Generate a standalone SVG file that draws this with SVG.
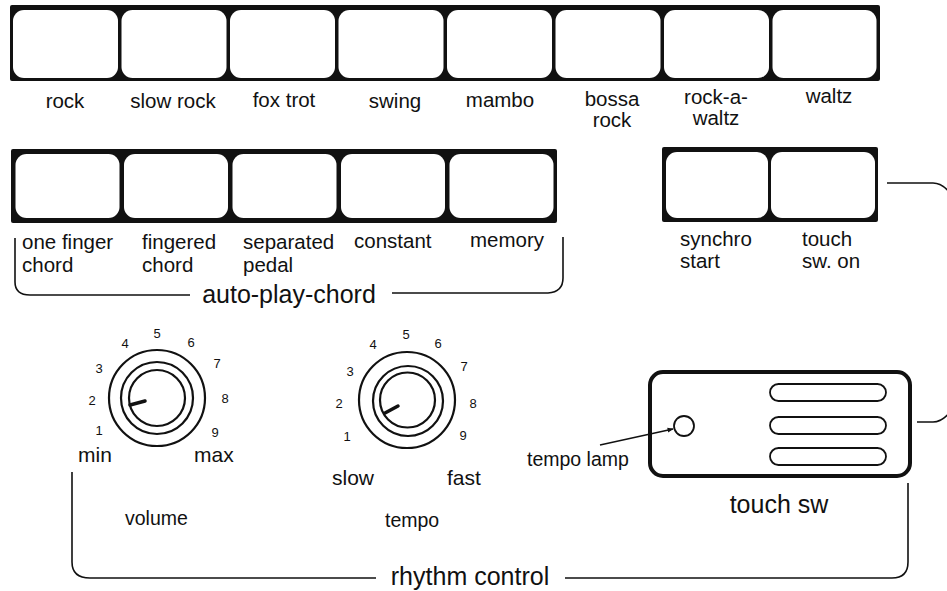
<svg xmlns="http://www.w3.org/2000/svg" width="947" height="591" viewBox="0 0 947 591">
<defs>
<style>
text{font-family:"Liberation Sans",Arial,Helvetica,sans-serif;fill:#111}
.lbl{font-size:20.5px}
.big{font-size:25px}
.num{font-size:13px;text-anchor:middle}
.mid{text-anchor:middle}
.bar{fill:#111}
.btn{fill:#fff}
.ring{fill:none;stroke:#111;stroke-width:2.2}
.ptr{stroke:#111;stroke-width:3.5;stroke-linecap:round}
.ln{fill:none;stroke:#111;stroke-width:1.6}
.slot{fill:#fff;stroke:#111;stroke-width:1.8}
</style>
<marker id="ah" viewBox="0 0 10 10" refX="9" refY="5" markerWidth="7" markerHeight="6" orient="auto" markerUnits="userSpaceOnUse">
<path d="M0,1 L10,5 L0,9 z" fill="#111"/>
</marker>
</defs>
<rect width="947" height="591" fill="#fff"/>

<g id="rhythm-buttons">
<rect class="bar" x="10" y="5" width="870" height="76" rx="2"/>
<rect class="btn" x="13" y="10" width="105" height="68" rx="11"/>
<rect class="btn" x="121.5" y="10" width="105" height="68" rx="11"/>
<rect class="btn" x="230" y="10" width="105" height="68" rx="11"/>
<rect class="btn" x="338.5" y="10" width="105" height="68" rx="11"/>
<rect class="btn" x="447" y="10" width="105" height="68" rx="11"/>
<rect class="btn" x="555.5" y="10" width="105" height="68" rx="11"/>
<rect class="btn" x="664" y="10" width="105" height="68" rx="11"/>
<rect class="btn" x="772.5" y="10" width="104" height="68" rx="11"/>
<text class="lbl mid" x="65" y="108">rock</text>
<text class="lbl mid" x="173" y="108">slow rock</text>
<text class="lbl mid" x="284" y="107">fox trot</text>
<text class="lbl mid" x="395" y="108">swing</text>
<text class="lbl mid" x="500" y="107">mambo</text>
<text class="lbl mid" x="612" y="106">bossa</text>
<text class="lbl mid" x="612" y="127">rock</text>
<text class="lbl mid" x="716" y="104">rock-a-</text>
<text class="lbl mid" x="716" y="125">waltz</text>
<text class="lbl mid" x="829" y="103">waltz</text>
</g>

<g id="chord-buttons">
<rect class="bar" x="11" y="149" width="546" height="74" rx="2"/>
<rect class="btn" x="15.5" y="154" width="104" height="64" rx="11"/>
<rect class="btn" x="124" y="154" width="104" height="64" rx="11"/>
<rect class="btn" x="232.5" y="154" width="104" height="64" rx="11"/>
<rect class="btn" x="341" y="154" width="104" height="64" rx="11"/>
<rect class="btn" x="449.5" y="154" width="104" height="64" rx="11"/>
<text class="lbl" x="22" y="249">one finger</text>
<text class="lbl" x="22" y="272">chord</text>
<text class="lbl" x="142" y="249">fingered</text>
<text class="lbl" x="142" y="272">chord</text>
<text class="lbl" x="243" y="249">separated</text>
<text class="lbl" x="243" y="272">pedal</text>
<text class="lbl" x="354" y="248">constant</text>
<text class="lbl" x="470" y="247">memory</text>
<text class="big mid" x="289" y="303">auto-play-chord</text>
</g>

<g id="sync-buttons">
<rect class="bar" x="662" y="147" width="216" height="75" rx="2"/>
<rect class="btn" x="666" y="152" width="102" height="66" rx="11"/>
<rect class="btn" x="771" y="152" width="104" height="66" rx="11"/>
<text class="lbl" x="680" y="246">synchro</text>
<text class="lbl" x="680" y="268">start</text>
<text class="lbl" x="802" y="246">touch</text>
<text class="lbl" x="802" y="268">sw. on</text>
</g>

<g id="volume-knob">
<circle class="ring" cx="157" cy="398" r="48" fill="#fff"/>
<circle class="ring" cx="157" cy="398" r="36"/>
<circle class="ring" cx="157" cy="398" r="28"/>
<line class="ptr" x1="130" y1="405" x2="145" y2="401"/>
<text class="num" x="99" y="435">1</text>
<text class="num" x="92" y="405">2</text>
<text class="num" x="99" y="373">3</text>
<text class="num" x="125" y="348">4</text>
<text class="num" x="157" y="338">5</text>
<text class="num" x="191" y="347">6</text>
<text class="num" x="217" y="368">7</text>
<text class="num" x="225" y="403">8</text>
<text class="num" x="215" y="437">9</text>
<text class="lbl" x="78" y="462" style="font-size:21px">min</text>
<text class="lbl" x="194" y="462" style="font-size:21px">max</text>
<text class="lbl" x="125" y="525" style="font-size:19.5px">volume</text>
</g>

<g id="tempo-knob">
<circle class="ring" cx="407" cy="400" r="48" fill="#fff"/>
<circle class="ring" cx="408" cy="401" r="35"/>
<circle class="ring" cx="407.5" cy="400" r="27.5"/>
<line class="ptr" x1="385" y1="413" x2="398" y2="406"/>
<text class="num" x="347" y="441">1</text>
<text class="num" x="339" y="408">2</text>
<text class="num" x="350" y="376">3</text>
<text class="num" x="373" y="349">4</text>
<text class="num" x="406" y="339">5</text>
<text class="num" x="438" y="348">6</text>
<text class="num" x="464" y="371">7</text>
<text class="num" x="473" y="408">8</text>
<text class="num" x="463" y="440">9</text>
<text class="lbl" x="332" y="485" style="font-size:21px">slow</text>
<text class="lbl" x="447" y="485" style="font-size:21px">fast</text>
<text class="lbl" x="385" y="527" style="font-size:19.5px">tempo</text>
</g>

<g id="touch-sw">
<rect x="650" y="372" width="260" height="104" rx="13" fill="#fff" stroke="#111" stroke-width="4"/>
<circle cx="684" cy="426" r="10" fill="#fff" stroke="#111" stroke-width="1.8"/>
<rect class="slot" x="770" y="384" width="116" height="17" rx="8.5"/>
<rect class="slot" x="770" y="417" width="116" height="17" rx="8.5"/>
<rect class="slot" x="770" y="448" width="116" height="17" rx="8.5"/>
<text class="big mid" x="779" y="513">touch sw</text>
<text class="lbl" x="527" y="466" style="font-size:19.5px">tempo lamp</text>
</g>

<g id="connectors">
<path class="ln" d="M15,238 V282 Q15,295 30,295 H190"/>
<path class="ln" d="M392,293 H548 Q563,292 563,278 V237"/>
<path class="ln" d="M887,183 H933 Q942,183 950,193"/>
<path class="ln" d="M917,422 H933 Q942,422 950,412"/>
<path class="ln" d="M72,472 V562 Q72,578 90,578 H376"/>
<path class="ln" d="M565,578 H892 Q908,578 908,562 V483"/>
<line class="ln" x1="600" y1="445" x2="673" y2="429" stroke-width="1.4" marker-end="url(#ah)"/>
<text class="big mid" x="470" y="585">rhythm control</text>
</g>
</svg>
